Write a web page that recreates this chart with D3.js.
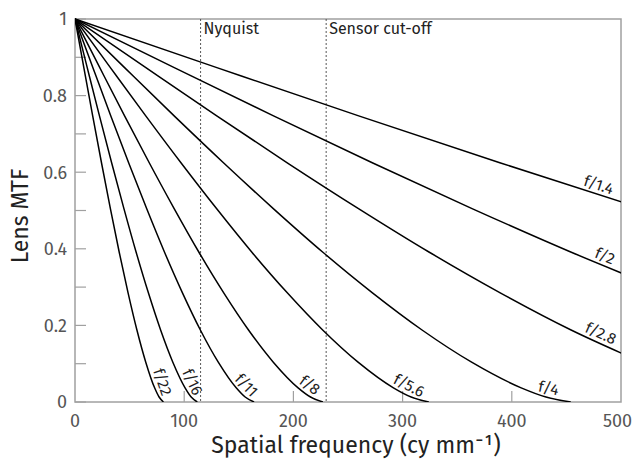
<!DOCTYPE html>
<html><head><meta charset="utf-8">
<script src="https://cdn.jsdelivr.net/npm/d3@7"></script>
<style>
html,body{margin:0;padding:0;background:#fff;}
svg{display:block;font-family:"Fira Sans","Open Sans","Noto Sans",sans-serif;}
</style></head>
<body><svg id="c" width="633" height="460"></svg>
<script>
// ---- data ----
const lensNames = ["f/1.4","f/2","f/2.8","f/4","f/5.6","f/8","f/11","f/16","f/22"];
const freq_f1_4 = [0,129.9,259.8,389.7,519.6];
const mtf_f1_4  = [1,0.873,0.747,0.624,0.505];
const freq_f2   = [0,90.9,181.8,272.7,363.6,454.5,545.4];
const mtf_f2    = [1,0.873,0.747,0.624,0.505,0.391,0.285];
const freq_f2_8 = [0,64.9,129.8,194.7,259.6,324.5,389.4,454.3,519.2];
const mtf_f2_8  = [1,0.873,0.747,0.624,0.505,0.391,0.285,0.188,0.104];
const freq_f4   = [0,45.4,90.8,136.2,181.6,227,272.4,317.8,363.2,408.6,431.3,454];
const mtf_f4    = [1,0.873,0.747,0.624,0.505,0.391,0.285,0.188,0.104,0.037,0.013,0];
const freq_f5_6 = [0,32.4,64.8,97.2,129.6,162,194.4,226.8,259.2,291.6,307.8,324];
const mtf_f5_6  = [1,0.873,0.747,0.624,0.505,0.391,0.285,0.188,0.104,0.037,0.013,0];
const freq_f8   = [0,22.7,45.4,68.1,90.8,113.5,136.2,158.9,181.6,204.3,215.7,227];
const mtf_f8    = [1,0.873,0.747,0.624,0.505,0.391,0.285,0.188,0.104,0.037,0.013,0];
const freq_f11  = [0,16.4,32.8,49.2,65.6,82,98.4,114.8,131.2,147.6,155.8,164];
const mtf_f11   = [1,0.873,0.747,0.624,0.505,0.391,0.285,0.188,0.104,0.037,0.013,0];
const freq_f16  = [0,11.2,22.4,33.6,44.8,56,67.2,78.4,89.6,100.8,106.4,112];
const mtf_f16   = [1,0.873,0.747,0.624,0.505,0.391,0.285,0.188,0.104,0.037,0.013,0];
const freq_f22  = [0,8.1,16.2,24.3,32.4,40.5,48.6,56.7,64.8,72.9,77,81];
const mtf_f22   = [1,0.873,0.747,0.624,0.505,0.391,0.285,0.188,0.104,0.037,0.013,0];
const labelFreq = [477,482,478,432,302,210,151,100,72];
const markerNames = ["Nyquist","Sensor cut-off"];
const markerFreq  = [115,230];
const xTicks = [0,100,200,300,400,500];
const yTicks = [0,0.2,0.4,0.6,0.8,1];
const yMinor = [0.1,0.3,0.5,0.7,0.9];

const freqs = [freq_f1_4,freq_f2,freq_f2_8,freq_f4,freq_f5_6,freq_f8,freq_f11,freq_f16,freq_f22];
const mtfs  = [mtf_f1_4,mtf_f2,mtf_f2_8,mtf_f4,mtf_f5_6,mtf_f8,mtf_f11,mtf_f16,mtf_f22];

// ---- layout ----
const L=75, R=621, T=19, B=402;
const svg = d3.select("#c");
const x = d3.scaleLinear().domain([0,500]).range([L,R]);
const y = d3.scaleLinear().domain([0,1]).range([B,T]);
const frameCol="#a0a0a0", tickLabCol="#555", textCol="#222";

svg.append("defs").append("clipPath").attr("id","clip")
  .append("rect").attr("x",L).attr("y",T-2).attr("width",R-L).attr("height",B-T+2);

// frame
svg.append("rect").attr("x",L).attr("y",T).attr("width",R-L).attr("height",B-T)
  .attr("fill","none").attr("stroke",frameCol).attr("stroke-width",1.5);

// ticks (inward)
svg.append("g").selectAll("line").data(yTicks.concat(yMinor)).join("line")
  .attr("x1",L).attr("x2",L+11).attr("y1",d=>y(d)).attr("y2",d=>y(d))
  .attr("stroke",frameCol).attr("stroke-width",1.2);
svg.append("g").selectAll("line").data(xTicks.slice(1,-1)).join("line")
  .attr("x1",d=>x(d)).attr("x2",d=>x(d)).attr("y1",B).attr("y2",B-11)
  .attr("stroke",frameCol).attr("stroke-width",1.2);

// tick labels
svg.append("g").selectAll("text").data(yTicks).join("text")
  .attr("x",L-8).attr("y",d=>y(d)).attr("dy","0.36em")
  .attr("text-anchor","end").attr("font-size",18).attr("fill",tickLabCol)
  .text(d=>d3.format("~g")(d));
svg.append("g").selectAll("text").data(xTicks).join("text")
  .attr("x",(d,i)=>i===xTicks.length-1 ? 632 : x(d)).attr("y",B+25)
  .attr("text-anchor",(d,i)=>i===xTicks.length-1 ? "end" : "middle")
  .attr("font-size",18).attr("fill",tickLabCol)
  .text(d=>d);

// axis titles
svg.append("text").attr("x",356).attr("y",453).attr("text-anchor","middle")
  .attr("font-size",23).attr("fill",textCol).text("Spatial frequency (cy mm\u207B\u00B9)");
svg.append("text").attr("transform",`translate(28,216) rotate(-90)`)
  .attr("text-anchor","middle").attr("font-size",23).attr("fill",textCol).text("Lens MTF");

// marker lines
markerFreq.forEach((f,i)=>{
  svg.append("line").attr("x1",x(f)).attr("x2",x(f)).attr("y1",T).attr("y2",B)
    .attr("stroke","#444").attr("stroke-width",0.9).attr("stroke-dasharray","2,2");
  svg.append("text").attr("x",x(f)+3).attr("y",T+15).attr("font-size",16)
    .attr("fill",textCol).text(markerNames[i]);
});

// curves
const line = d3.line().x(d=>x(d[0])).y(d=>y(d[1])).curve(d3.curveMonotoneX);
const gC = svg.append("g").attr("clip-path","url(#clip)");
lensNames.forEach((n,i)=>{
  const pts = freqs[i].map((f,j)=>[f,mtfs[i][j]]);
  gC.append("path").attr("d",line(pts)).attr("fill","none")
    .attr("stroke","#000").attr("stroke-width",1.5);
});

// labels along curves
lensNames.forEach((n,i)=>{
  const fr=freqs[i], m=mtfs[i], f=labelFreq[i];
  let j=1; while(j<fr.length-1 && fr[j]<f) j++;
  const t=(f-fr[j-1])/(fr[j]-fr[j-1]);
  const v=m[j-1]+t*(m[j]-m[j-1]);
  const px=x(f), py=y(v);
  const ang=Math.atan2(y(m[j])-y(m[j-1]), x(fr[j])-x(fr[j-1]))*180/Math.PI;
  svg.append("text").attr("transform",`translate(${px},${py}) rotate(${ang})`)
    .attr("x",0).attr("y",-4).attr("text-anchor","middle")
    .attr("font-size",15.5).attr("fill",textCol).text(n);
});
</script></body></html>
